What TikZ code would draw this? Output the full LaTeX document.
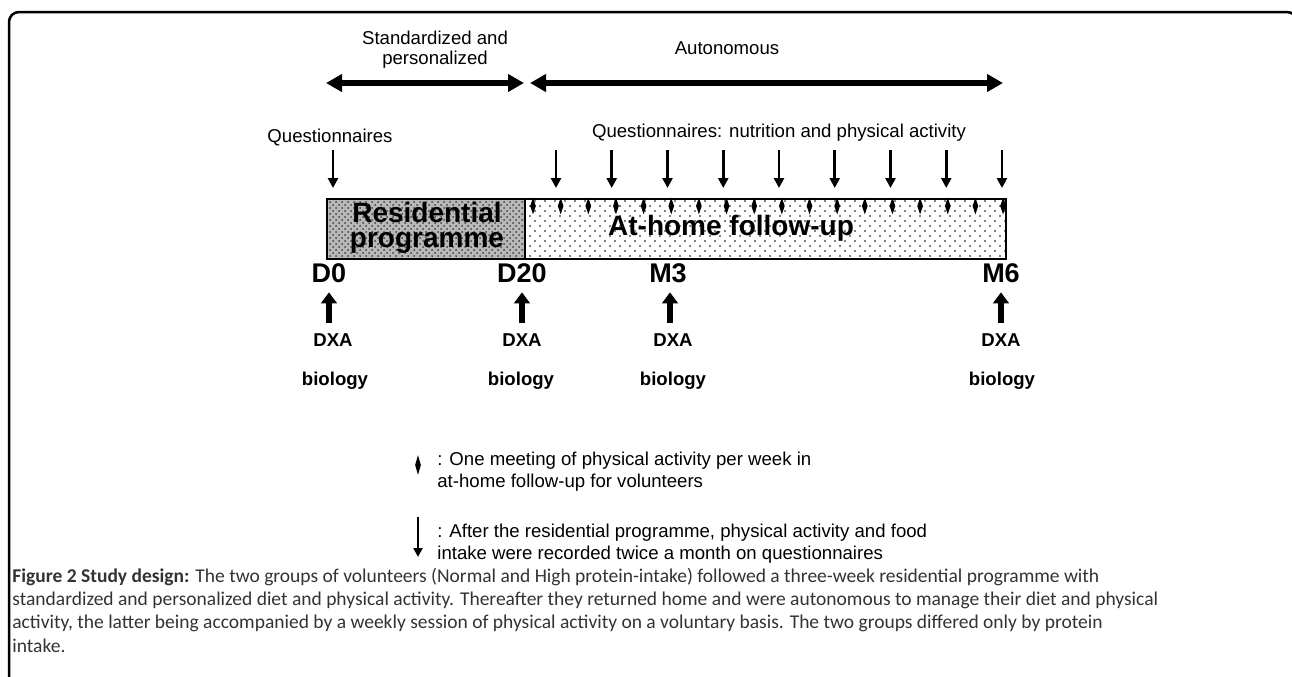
\documentclass[tikz,border=0pt]{standalone}
\usepackage{fontspec}
\setmainfont{Liberation Sans}
\newfontfamily\capfont{Carlito}
\usepackage{tikz}
\usetikzlibrary{arrows.meta}
\usetikzlibrary{positioning}
\usetikzlibrary{patterns,patterns.meta}
\usetikzlibrary{shapes}
\tikzstyle{lbl}=[inner sep=0pt,align=center,font=\fontsize{9.3}{10}\selectfont]
\tikzstyle{day}=[inner sep=0pt,font=\fontsize{13.5}{13.5}\selectfont\bfseries]
\tikzstyle{meas}=[inner sep=0pt,font=\fontsize{9.3}{10}\selectfont\bfseries]
\tikzstyle{boxtxt}=[inner sep=0pt,align=center,font=\fontsize{14}{12.5}\selectfont\bfseries]
\tikzstyle{meet}=[diamond,fill=black,inner sep=0pt,minimum width=3pt,minimum height=8.5pt]

\begin{document}
\begin{tikzpicture}[x=0.5pt,y=-0.5pt,
  phase/.style={line width=3pt,{Triangle[width=8.5pt,length=8pt]}-{Triangle[width=8.5pt,length=8pt]}},
  quest/.style={line width=1.35pt,-{Triangle[width=5pt,length=5pt]}},
  dxa/.style={line width=3.3pt,-{Triangle[width=7.8pt,length=5.5pt]}},
  legtxt/.style={inner sep=0pt,align=left,anchor=base west,font=\fontsize{9.3}{11}\selectfont}]
\useasboundingbox (0,0) rectangle (1292,676);
\draw[line width=1.25pt,rounded corners=5pt] (9,700) -- (9,12) -- (1297,12) -- (1297,700);

% phases
\node [lbl] (std) at (435,50) {Standardized and\\personalized};
\node [lbl] (aut) at (727,48) {Autonomous};
\coordinate (p0) at (326,83);
\coordinate (p1) at (524,83);
\coordinate (p2) at (530,83);
\coordinate (p3) at (1003,83);
\draw [phase] (p0) -- (p1);
\draw [phase] (p2) -- (p3);

% timeline boxes
\node [draw,thick,anchor=north west,minimum width=99pt,minimum height=30pt,inner sep=0pt,
  preaction={fill=black!28},pattern=crosshatch dots,pattern color=black!75] (res) at (326,198) {};
\node [draw,thick,anchor=north west,minimum width=240.5pt,minimum height=30pt,inner sep=0pt,
  preaction={pattern={Dots[distance=5pt,radius=0.4pt]}},
  pattern={Dots[distance=5pt,radius=0.4pt,xshift=2.5pt,yshift=2.5pt]}] (home) at (524,198) {};
\node [boxtxt] (restxt) at (427,228) {Residential\\programme};
\node [boxtxt] (hometxt) at (731,228) {At-home follow-up};

% questionnaires
\node [lbl] (q0) at (330,138) {Questionnaires};
\coordinate (q0a) at (333,150);
\draw [quest,shorten >=5pt] (q0a) -- (q0a |- res.north);
\node [lbl] (qs) at (779,133) {Questionnaires: nutrition and physical activity};
\foreach \i in {0,...,8}{
  \coordinate (qa\i) at (556+\i*55.75,150);
  \draw [quest,shorten >=5pt] (qa\i) -- (qa\i |- home.north);
}
\foreach \i in {0,...,17}
  \node [meet] (w\i) at (533+\i*27.65,206) {};

% time points
\node [day] (d0) at (329,273) {D0};
\node [day] (d20) at (522,273) {D20};
\node [day] (m3) at (668,273) {M3};
\node [day] (m6) at (1001,273) {M6};
\node [meas] (x0) at (333,340) {DXA};
\node [meas] (x1) at (522,340) {DXA};
\node [meas] (x2) at (673,340) {DXA};
\node [meas] (x3) at (1001,340) {DXA};
\node [meas] (b0) at (335,381) {biology};
\node [meas] (b1) at (521,381) {biology};
\node [meas] (b2) at (673,381) {biology};
\node [meas] (b3) at (1002,381) {biology};
\draw [dxa,shorten <=5pt,shorten >=4.7pt] (d0.south |- x0.north) -- (d0.south);
\draw [dxa,shorten <=5pt,shorten >=4.7pt] (d20.south |- x1.north) -- (d20.south);
\draw [dxa,shorten <=5pt,shorten >=4.7pt] (670,0 |- x2.north) -- (670,0 |- m3.south);
\draw [dxa,shorten <=5pt,shorten >=4.7pt] (m6.south |- x3.north) -- (m6.south);

% legend
\node [meet,minimum height=10pt] (lw) at (418,465) {};
\node [legtxt] (lwt) at (437,487) {: One meeting of physical activity per week in\\at-home follow-up for volunteers};
\coordinate (la) at (418,517);
\coordinate (lb) at (418,557);
\draw [line width=1.2pt,-{Triangle[width=4.5pt,length=4.5pt]}] (la) -- (lb);
\node [legtxt] (lat) at (437,559) {: After the residential programme, physical activity and food\\intake were recorded twice a month on questionnaires};

% caption
\node [inner sep=0pt,align=left,anchor=base west,text=black!80,font=\capfont\fontsize{9.75}{11.65}\selectfont] (cap) at (12,652)
  {\textbf{Figure 2 Study design:} The two groups of volunteers (Normal and High protein-intake) followed a three-week residential programme with\\
   standardized and personalized diet and physical activity. Thereafter they returned home and were autonomous to manage their diet and physical\\
   activity, the latter being accompanied by a weekly session of physical activity on a voluntary basis. The two groups differed only by protein\\
   intake.};
\end{tikzpicture}
\end{document}
